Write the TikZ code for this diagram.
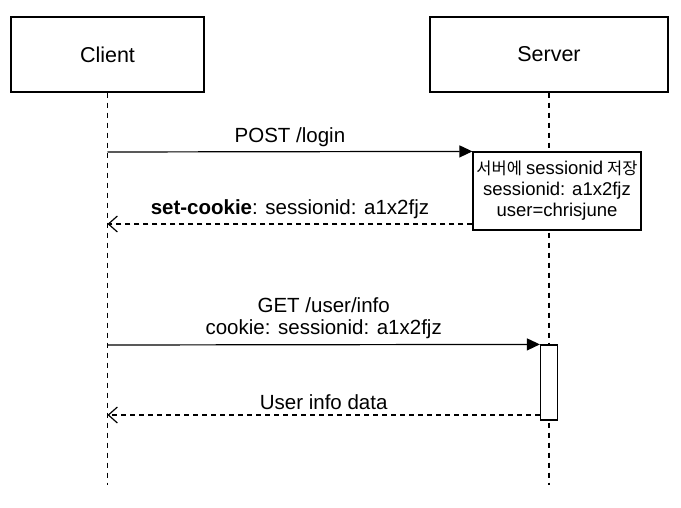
\documentclass[tikz,border=0pt]{standalone}
\usepackage{fontspec}
\setmainfont{Liberation Sans}
\newfontfamily\kr{Noto Sans CJK KR}
\usetikzlibrary{arrows.meta}
\begin{document}
\begin{tikzpicture}[x=1pt, y=-1pt, line width=1.2pt, font=\fontsize{20.5}{22}\selectfont,
  actor/.style={draw, minimum height=75pt, inner sep=0pt, font=\fontsize{21.5}{24}\selectfont},
  notebox/.style={draw, fill=white, align=center, minimum width=168pt, minimum height=78pt, inner sep=0pt, font=\fontsize{18.5}{21}\selectfont},
  actbox/.style={draw, fill=white, minimum width=17pt, minimum height=75pt, inner sep=0pt},
  life/.style={dash pattern=on 5pt off 5pt},
  msg/.style={-{Triangle[length=13pt, width=12pt]}},
  reply/.style={dash pattern=on 5pt off 4pt, -{Straight Barb[length=9pt, width=16pt]}}]

\useasboundingbox (0,0) rectangle (681,508);

\node[actor, minimum width=193pt] (client) at (107.5,54.5) {Client};
\node[actor, minimum width=238pt] (server) at (549,54.5) {Server};

\coordinate (client-end) at (107.5,485);
\coordinate (server-end) at (549,485);

% lifelines
\draw[life] (client.south) -- (client-end);
\draw[life] (server.south) -- (server-end);

\node[notebox] (note) at (557,191) {{\kr\fontsize{16.5}{21}\selectfont 서버에}\hspace{4pt}sessionid\hspace{4pt}{\kr\fontsize{16.5}{21}\selectfont 저장}\\sessionid: a1x2fjz\\user=chrisjune};
\node[actbox] (act) at (549,382.5) {};

\coordinate (c1) at (107.5,152);
\coordinate (c2) at (107.5,224);
\coordinate (c3) at (107.5,345);
\coordinate (c4) at (107.5,415);

% POST /login
\draw[msg] (c1) -- (note.north west) node[midway, above=1pt] {POST /login};
% set-cookie
\draw[reply] (note.west |- c2) -- (c2) node[midway, above=1pt] {\textbf{set-cookie}: sessionid: a1x2fjz};
% GET /user/info
\draw[msg] (c3) -- (act.north west) node[midway, above=2pt, align=center] {GET /user/info\\cookie: sessionid: a1x2fjz};
% User info data
\draw[reply] (act.west |- c4) -- (c4) node[midway, above=1pt] {User info data};

\end{tikzpicture}
\end{document}
